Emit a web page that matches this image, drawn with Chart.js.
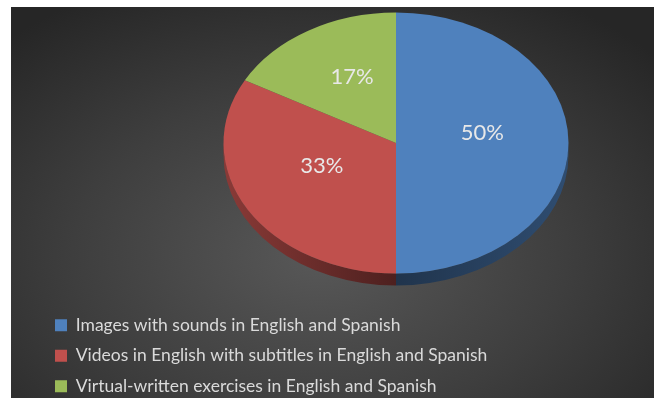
<!DOCTYPE html>
<html>
<head>
<meta charset="utf-8">
<script src="https://cdn.jsdelivr.net/npm/chart.js@4.4.0/dist/chart.umd.min.js"></script>
<style>
  html, body { margin: 0; padding: 0; background: #fff; overflow: hidden; }
  #frame {
    position: absolute; left: 11px; top: 7px; width: 643px; height: 400px;
    background: radial-gradient(ellipse 70% 75% at 48% 62%, #585858 0%, #3e3e3e 55%, #262626 100%);
  }
  canvas { display: block; }
</style>
</head>
<body>
<div id="frame"><canvas id="chart" width="643" height="400"></canvas></div>
<script>
const categories = [
    "Images with sounds in English and Spanish",
    "Videos in English with subtitles in English and Spanish",
    "Virtual-written exercises in English and Spanish"
];
const shares = [50, 33, 17];
const sliceColors = ["#4f81bd", "#c0504d", "#9bbb59"];

// where the tilted pie sits on the canvas and how flat it is
const pieCenter = { x: 385, y: 136 };
const pieRadiusX = 172.5;
const pieRadiusY = 130.5;
const pieDepth = 12;
const labelLift = -10;


function shade(hex, f) {
    const n = parseInt(hex.slice(1), 16);
    const r = Math.round(((n >> 16) & 255) * f);
    const g = Math.round(((n >> 8) & 255) * f);
    const b = Math.round((n & 255) * f);
    return `rgb(${r},${g},${b})`;
}


function pieTransform(chart) {
    const arc = chart.getDatasetMeta(0).data[0];
    return {
        sx: pieRadiusX / arc.outerRadius,
        sy: pieRadiusY / arc.outerRadius,
        ox: arc.x,
        oy: arc.y
    };
}


// squash the round pie into an ellipse and give it a darker rim underneath
const tiltedPie = {
    id: "tiltedPie",
    beforeDatasetsDraw(chart) {
        const ctx = chart.ctx;
        const t = pieTransform(chart);
        ctx.save();
        ctx.translate(pieCenter.x, pieCenter.y);
        ctx.scale(t.sx, t.sy);
        ctx.translate(-t.ox, -t.oy);

        const depth = pieDepth / t.sy;
        chart.getDatasetMeta(0).data.forEach((arc, i) => {
            const a0 = Math.max(arc.startAngle, 0);
            const a1 = Math.min(arc.endAngle, Math.PI);
            if (a1 <= a0) return;
            const grad = ctx.createLinearGradient(arc.x - arc.outerRadius, 0, arc.x + arc.outerRadius, 0);
            grad.addColorStop(0, shade(sliceColors[i], 0.72));
            grad.addColorStop(0.5, shade(sliceColors[i], 0.4));
            grad.addColorStop(1, shade(sliceColors[i], 0.6));
            ctx.beginPath();
            ctx.arc(arc.x, arc.y, arc.outerRadius, a0, a1);
            ctx.arc(arc.x, arc.y + depth, arc.outerRadius, a1, a0, true);
            ctx.closePath();
            ctx.fillStyle = grad;
            ctx.fill();
        });
    },
    afterDatasetsDraw(chart) {
        const ctx = chart.ctx;
        ctx.restore();

        const t = pieTransform(chart);
        ctx.save();
        ctx.font = "22px Lato";
        ctx.fillStyle = "#e8e8e8";
        ctx.textAlign = "center";
        ctx.textBaseline = "middle";
        chart.getDatasetMeta(0).data.forEach((arc, i) => {
            const p = arc.tooltipPosition();
            const x = pieCenter.x + (p.x - t.ox) * t.sx;
            const y = pieCenter.y + (p.y - t.oy) * t.sy + labelLift;
            ctx.fillText(shares[i] + "%", x, y);
        });
        ctx.restore();
    }
};


Chart.defaults.font.family = "Lato";

new Chart(document.getElementById("chart"), {
    type: "pie",
    data: {
        labels: categories,
        datasets: [{
            data: shares,
            backgroundColor: sliceColors,
            borderWidth: 0
        }]
    },
    options: {
        responsive: false,
        animation: false,
        events: [],
        layout: { padding: { left: 31, right: 0, top: 0, bottom: 2 } },
        plugins: {
            legend: {
                position: "bottom",
                align: "start",
                labels: {
                    boxWidth: 12,
                    boxHeight: 12,
                    padding: 13,
                    color: "#dadada",
                    font: { size: 17.5 }
                }
            },
            tooltip: { enabled: false }
        }
    },
    plugins: [tiltedPie]
});
</script>
</body>
</html>
